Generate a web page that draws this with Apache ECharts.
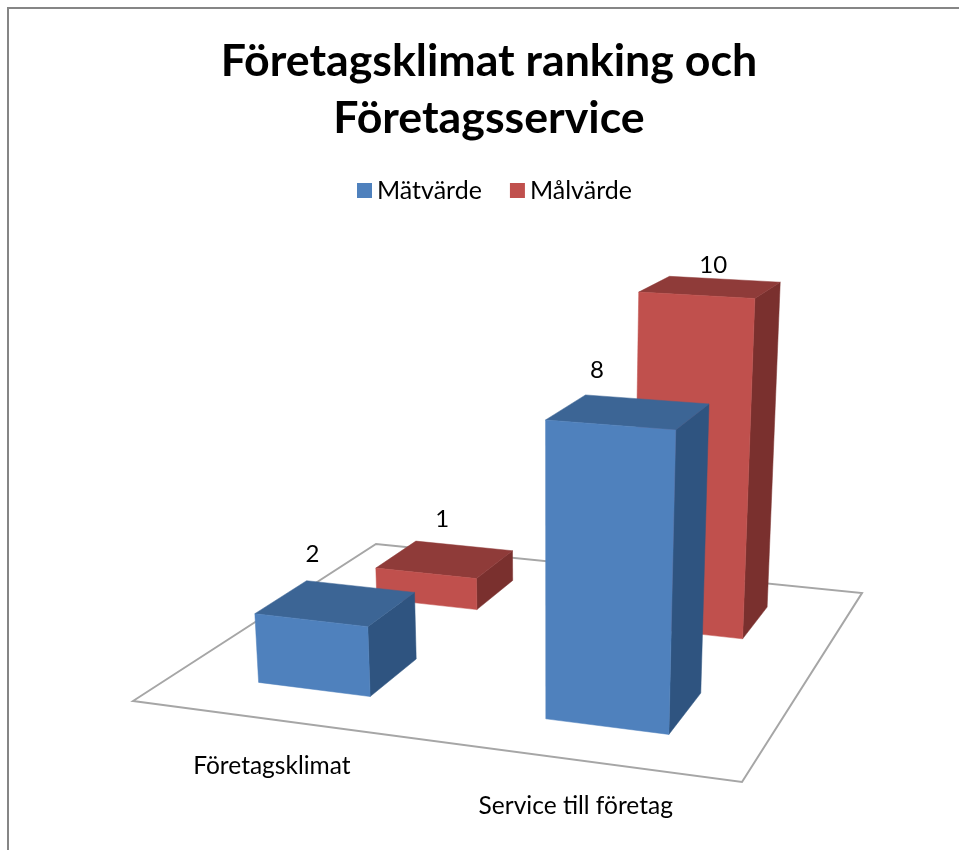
<!DOCTYPE html>
<html>
<head>
<meta charset="utf-8">
<style>html,body{margin:0;padding:0;background:#fff}#c{width:959px;height:850px}</style>
<script src="https://cdn.jsdelivr.net/npm/echarts@6/dist/echarts.min.js"></script>
</head>
<body>
<div id="c"></div>
<script>
const titleText = 'Företagsklimat ranking och\nFöretagsservice';
const categories = ['Företagsklimat', 'Service till företag'];
const seriesNames = ['Mätvärde', 'Målvärde'];
const matvarde = [2, 8];
const malvarde = [1, 10];

const COLORS = [
  { front: '#4F81BD', top: '#3C6595', side: '#2F5480' },
  { front: '#C0504D', top: '#8F3B39', side: '#7A302E' }
];

// Perspective camera of the chart box: floor corners define a homography,
// upright edges run to a vanishing point below the picture.
const FLOOR = [[133, 701], [742, 782], [862, 593], [376, 544]];
const VANISH = [550, 6000];
const Q_PER_UNIT = 0.00655;
const GRID = { left: 200, top: 300, width: 400, height: 300 };
const Y_MAX = 10;
const Q = Q_PER_UNIT * Y_MAX / GRID.height;   // per grid pixel
const BAR_FRACTION = 0.4;                     // of a category band
const BAR_DEPTH = 0.2;                        // of the floor depth
// small hand placement of the data labels: [row][category] -> [dx, dy]
const LABEL_NUDGE = [
  [[7, -2], [-9, -1]],
  [[-1, 2], [4, 4]]
];

function homography(p) {
  const [p0, p1, p2, p3] = p;
  const dx1 = p1[0] - p2[0], dx2 = p3[0] - p2[0], sx = p0[0] - p1[0] + p2[0] - p3[0];
  const dy1 = p1[1] - p2[1], dy2 = p3[1] - p2[1], sy = p0[1] - p1[1] + p2[1] - p3[1];
  const det = dx1 * dy2 - dx2 * dy1;
  const g = (sx * dy2 - dx2 * sy) / det, h = (dx1 * sy - sx * dy1) / det;
  return {
    a: p1[0] - p0[0] + g * p1[0], b: p3[0] - p0[0] + h * p3[0], c: p0[0],
    d: p1[1] - p0[1] + g * p1[1], e: p3[1] - p0[1] + h * p3[1], f: p0[1], g, h
  };
}
const H = homography(FLOOR);
function project(u, v, z) {
  const w = 1 + H.g * u + H.h * v - Q * z;
  return [
    (H.a * u + H.b * v + H.c - Q * VANISH[0] * z) / w,
    (H.d * u + H.e * v + H.f - Q * VANISH[1] * z) / w
  ];
}

function barItem(row, labelDepth, labelLift) {
  return function (params, api) {
    const val = api.value(1);
    const base = api.coord([api.value(0), 0]);
    const tip = api.coord([api.value(0), val]);
    const band = api.size([1, 0])[0];
    const uc = (base[0] - GRID.left) / GRID.width;
    const halfU = band * BAR_FRACTION / 2 / GRID.width;
    const vc = (row + 0.5) / 2;
    const u0 = uc - halfU, u1 = uc + halfU;
    const v0 = vc - BAR_DEPTH / 2, v1 = vc + BAR_DEPTH / 2;
    const z = base[1] - tip[1];
    const fbl = project(u0, v0, 0), fbr = project(u1, v0, 0), bbr = project(u1, v1, 0);
    const ftl = project(u0, v0, z), ftr = project(u1, v0, z);
    const btl = project(u0, v1, z), btr = project(u1, v1, z);
    const c = COLORS[row];
    const anchor = project(uc, labelDepth, z);
    const nudge = LABEL_NUDGE[row][params.dataIndex];
    const poly = (pts, fill) => ({
      type: 'polygon', shape: { points: pts },
      style: { fill: fill, stroke: fill, lineWidth: 0.5 }
    });
    return {
      type: 'group',
      children: [
        poly([fbr, bbr, btr, ftr], c.side),
        poly([ftl, ftr, btr, btl], c.top),
        poly([fbl, fbr, ftr, ftl], c.front),
        {
          type: 'text',
          style: {
            x: anchor[0] + nudge[0], y: anchor[1] - (labelLift - 1.8 * val) + nudge[1],
            text: String(val), align: 'center', verticalAlign: 'middle',
            font: '24px Lato', fill: '#000'
          }
        }
      ]
    };
  };
}

function floorItem(params, api) {
  if (params.dataIndex !== 0) return null;
  return {
    type: 'polygon',
    shape: { points: [project(0, 0, 0), project(1, 0, 0), project(1, 1, 0), project(0, 1, 0)] },
    style: { fill: '#fff', stroke: '#A6A6A6', lineWidth: 2 }
  };
}

function categoryLabelItem(params, api) {
  const base = api.coord([api.value(0), 0]);
  const p = project((base[0] - GRID.left) / GRID.width, 0, 0);
  return {
    type: 'text',
    style: {
      x: p[0] - 2, y: p[1] + 46,
      text: categories[api.value(0)], align: 'center', verticalAlign: 'middle',
      font: '24.5px Lato', fill: '#000'
    }
  };
}

const chart = echarts.init(document.getElementById('c'), null, { renderer: 'canvas' });
chart.setOption({
  animation: false,
  backgroundColor: '#fff',
  title: {
    text: titleText, left: 484, textAlign: 'center', top: 28,
    textStyle: { fontFamily: 'Lato', fontWeight: 'bold', fontSize: 44.7, lineHeight: 57, color: '#000' }
  },
  legend: {
    data: seriesNames, top: 173, left: 352, itemWidth: 15, itemHeight: 15, itemGap: 28,
    icon: 'rect', textStyle: { fontFamily: 'Lato', fontSize: 25, color: '#000', padding: [0, 0, 0, 0] }
  },
  color: [COLORS[0].front, COLORS[1].front],
  grid: GRID,
  xAxis: { type: 'category', data: categories, show: false },
  yAxis: { type: 'value', min: 0, max: Y_MAX, show: false },
  graphic: [{
    type: 'polyline', silent: true, z: -10,
    shape: { points: [[8, 850], [8, 8], [959, 8]] },
    style: { stroke: '#868686', lineWidth: 2, fill: null }
  }],
  series: [
    { type: 'custom', name: 'floor', coordinateSystem: 'cartesian2d', z: 1, silent: true,
      data: [[0, 0]], renderItem: floorItem, encode: { x: 0, y: 1 } },
    { type: 'custom', name: 'labels', coordinateSystem: 'cartesian2d', z: 1, silent: true,
      data: categories.map((c, i) => [i, 0]), renderItem: categoryLabelItem, encode: { x: 0, y: 1 } },
    { type: 'custom', name: seriesNames[1], coordinateSystem: 'cartesian2d', z: 2,
      itemStyle: { color: COLORS[1].front },
      data: malvarde.map((v, i) => [i, v]), renderItem: barItem(1, 0.74, 45), encode: { x: 0, y: 1 } },
    { type: 'custom', name: seriesNames[0], coordinateSystem: 'cartesian2d', z: 3,
      itemStyle: { color: COLORS[0].front },
      data: matvarde.map((v, i) => [i, v]), renderItem: barItem(0, 0.13, 71), encode: { x: 0, y: 1 } }
  ]
});
</script>
</body>
</html>
